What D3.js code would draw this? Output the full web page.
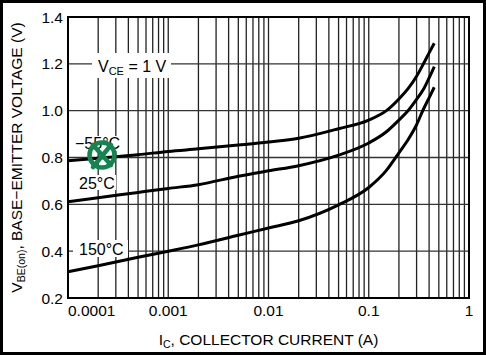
<!DOCTYPE html>
<html>
<head>
<meta charset="utf-8">
<script src="https://cdn.jsdelivr.net/npm/d3@7"></script>
<style>
  body { margin: 0; background: #fff; }
  svg { display: block; font-family: "Liberation Sans", Arial, sans-serif; }
</style>
</head>
<body>
<div id="chart"></div>
<script>
// Collector current (A), shared by all three curves
const currents = [0.0001, 0.0002, 0.0005, 0.001, 0.002, 0.005, 0.01, 0.02, 0.05, 0.1, 0.15, 0.2, 0.25, 0.3, 0.35, 0.4, 0.45];

// VBE(on) in volts for each temperature
const vbeMinus55 = [0.786, 0.797, 0.812, 0.826, 0.837, 0.853, 0.866, 0.882, 0.923, 0.96, 1.0, 1.05, 1.097, 1.147, 1.199, 1.247, 1.288];
const vbe25 = [0.611, 0.628, 0.651, 0.668, 0.684, 0.72, 0.743, 0.765, 0.81, 0.862, 0.91, 0.96, 1.003, 1.048, 1.09, 1.14, 1.188];
const vbe150 = [0.312, 0.338, 0.374, 0.40, 0.427, 0.468, 0.499, 0.53, 0.598, 0.672, 0.745, 0.82, 0.88, 0.94, 1.005, 1.055, 1.10];

const seriesNames = ["\u221255\u00b0C", "25\u00b0C", "150\u00b0C"];

// Tick labels
const xTicks = [0.0001, 0.001, 0.01, 0.1, 1];
const xTickLabels = ["0.0001", "0.001", "0.01", "0.1", "1"];
const yTicks = [0.2, 0.4, 0.6, 0.8, 1.0, 1.2, 1.4];

const width = 486;
const height = 355;
const margin = { top: 17, right: 17, bottom: 57, left: 68 };

const svg = d3.select("#chart")
    .append("svg")
    .attr("width", width)
    .attr("height", height);

// outer frame
svg.append("rect")
    .attr("x", 1.5).attr("y", 1.5)
    .attr("width", width - 3).attr("height", height - 3)
    .attr("fill", "#fff")
    .attr("stroke", "#000")
    .attr("stroke-width", 3);

const x = d3.scaleLog()
    .domain([0.0001, 1])
    .range([margin.left, width - margin.right]);

const y = d3.scaleLinear()
    .domain([0.2, 1.4])
    .range([height - margin.bottom, margin.top]);

// grid: every 1..9 within each decade
const gridX = [];
for (let d = -4; d < 0; d++) {
    for (let k = 1; k <= 9; k++) gridX.push(k * Math.pow(10, d));
}
gridX.push(1);

const grid = svg.append("g");
grid.selectAll("line.v")
    .data(gridX)
    .enter()
    .append("line")
    .attr("class", "v")
    .attr("x1", d => x(d)).attr("x2", d => x(d))
    .attr("y1", y(1.4)).attr("y2", y(0.2))
    .attr("stroke", "#222")
    .attr("stroke-width", 1.3);

grid.selectAll("line.h")
    .data(yTicks)
    .enter()
    .append("line")
    .attr("class", "h")
    .attr("x1", x(0.0001)).attr("x2", x(1))
    .attr("y1", d => y(d)).attr("y2", d => y(d))
    .attr("stroke", "#333")
    .attr("stroke-width", 1.4);

// white boxes behind annotations
const boxes = [
    [92, 53, 79, 25],   // VCE label
    [73, 136, 48, 15],  // -55
    [76, 175, 40, 15],  // 25
    [73, 240, 55, 17]   // 150
];
svg.selectAll("rect.box")
    .data(boxes)
    .enter()
    .append("rect")
    .attr("class", "box")
    .attr("x", d => d[0]).attr("y", d => d[1])
    .attr("width", d => d[2]).attr("height", d => d[3])
    .attr("fill", "#fff");

// plot border
svg.append("rect")
    .attr("x", x(0.0001)).attr("y", y(1.4))
    .attr("width", x(1) - x(0.0001))
    .attr("height", y(0.2) - y(1.4))
    .attr("fill", "none")
    .attr("stroke", "#000")
    .attr("stroke-width", 2);

// curves
const line = d3.line()
    .x(d => x(d[0]))
    .y(d => y(d[1]))
    .curve(d3.curveMonotoneX);

[vbeMinus55, vbe25, vbe150].forEach(vals => {
    svg.append("path")
        .datum(currents.map((c, i) => [c, vals[i]]))
        .attr("d", line)
        .attr("fill", "none")
        .attr("stroke", "#000")
        .attr("stroke-width", 3);
});

// tick labels
svg.append("g")
    .selectAll("text")
    .data(yTicks)
    .enter()
    .append("text")
    .attr("x", 63)
    .attr("y", d => y(d))
    .attr("dy", "0.36em")
    .attr("text-anchor", "end")
    .style("font-size", "15.5px")
    .text(d => d3.format(".1f")(d));

svg.append("g")
    .selectAll("text")
    .data(xTicks)
    .enter()
    .append("text")
    .attr("x", d => x(d))
    .attr("y", 316)
    .attr("text-anchor", (d, i) => i === 0 ? "start" : "middle")
    .style("font-size", "15.5px")
    .text((d, i) => xTickLabels[i]);

// axis titles
const xTitle = svg.append("text")
    .attr("x", (x(0.0001) + x(1)) / 2)
    .attr("y", 345)
    .attr("text-anchor", "middle")
    .style("font-size", "15.5px");
xTitle.append("tspan").text("I");
xTitle.append("tspan").attr("dy", 3).style("font-size", "10.5px").text("C");
xTitle.append("tspan").attr("dy", -3).text(", COLLECTOR CURRENT (A)");

const yTitle = svg.append("text")
    .attr("transform", `translate(22, ${(y(0.2) + y(1.4)) / 2}) rotate(-90)`)
    .attr("text-anchor", "middle")
    .style("font-size", "15.5px");
yTitle.append("tspan").text("V");
yTitle.append("tspan").attr("dy", 3).style("font-size", "10.5px").text("BE(on)");
yTitle.append("tspan").attr("dy", -3).text(", BASE\u2212EMITTER VOLTAGE (V)");

// VCE annotation
const vce = svg.append("text")
    .attr("x", 98)
    .attr("y", 71.5)
    .style("font-size", "16px");
vce.append("tspan").text("V");
vce.append("tspan").attr("dy", 3).style("font-size", "11px").text("CE");
vce.append("tspan").attr("dy", -3).text(" = 1 V");

// temperature labels
const labelPos = [[75, 148.5], [79, 188.5], [79, 255]];
svg.selectAll("text.temp")
    .data(seriesNames)
    .enter()
    .append("text")
    .attr("class", "temp")
    .attr("x", (d, i) => labelPos[i][0])
    .attr("y", (d, i) => labelPos[i][1])
    .style("font-size", "16px")
    .text(d => d);

// green stamp over the -55 label
const mark = svg.append("g")
    .attr("fill", "none")
    .attr("stroke", "#12864e")
    .attr("stroke-width", 4.5)
    .attr("stroke-linecap", "round");
mark.append("circle").attr("cx", 102).attr("cy", 155).attr("r", 12.5);
mark.append("line").attr("x1", 93).attr("y1", 145).attr("x2", 111).attr("y2", 165);
mark.append("line").attr("x1", 111).attr("y1", 145).attr("x2", 93).attr("y2", 167);
</script>
</body>
</html>
